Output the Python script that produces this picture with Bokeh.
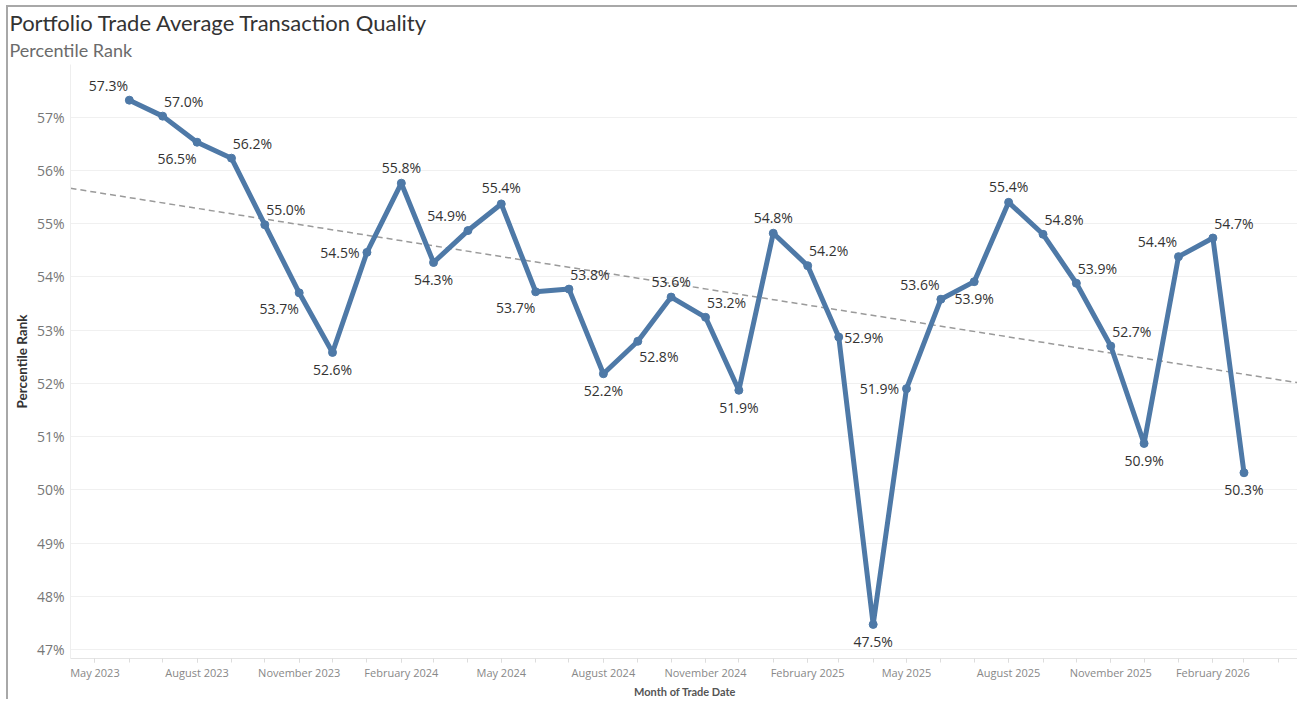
import numpy as np
import pandas as pd
from bokeh.plotting import figure
from bokeh.models import (ColumnDataSource, Range1d, FixedTicker, PrintfTickFormatter,
                          DatetimeTickFormatter, Title)
from bokeh.embed import file_html
from bokeh.resources import INLINE
from bokeh.core.properties import value

# ---- data ----
months = ["2023-06", "2023-07", "2023-08", "2023-09", "2023-10", "2023-11", "2023-12",
          "2024-01", "2024-02", "2024-03", "2024-04", "2024-05", "2024-06", "2024-07",
          "2024-08", "2024-09", "2024-10", "2024-11", "2024-12", "2025-01", "2025-02",
          "2025-03", "2025-04", "2025-05", "2025-06", "2025-07", "2025-08", "2025-09",
          "2025-10", "2025-11", "2025-12", "2026-01", "2026-02", "2026-03"]
pct_rank = [57.32, 57.02, 56.53, 56.23, 54.98, 53.70, 52.58,
            54.46, 55.76, 54.27, 54.87, 55.37, 53.72, 53.77,
            52.18, 52.79, 53.62, 53.24, 51.87, 54.82, 54.21,
            52.87, 47.47, 51.90, 53.58, 53.91, 55.40, 54.80,
            53.88, 52.70, 50.87, 54.38, 54.73, 50.32]
tick_months = ["2023-05", "2023-08", "2023-11", "2024-02", "2024-05", "2024-08",
               "2024-11", "2025-02", "2025-05", "2025-08", "2025-11", "2026-02"]
minor_months = ["2023-05", "2023-06", "2023-07", "2023-08", "2023-09", "2023-10", "2023-11",
                "2023-12", "2024-01", "2024-02", "2024-03", "2024-04", "2024-05", "2024-06",
                "2024-07", "2024-08", "2024-09", "2024-10", "2024-11", "2024-12", "2025-01",
                "2025-02", "2025-03", "2025-04", "2025-05", "2025-06", "2025-07", "2025-08",
                "2025-09", "2025-10", "2025-11", "2025-12", "2026-01", "2026-02", "2026-03",
                "2026-04"]
y_ticks = [47, 48, 49, 50, 51, 52, 53, 54, 55, 56, 57]

# label placement (layout only)
label_pos = ['ul', 'ur', 'dl', 'ur', 'ur', 'dl', 'd', 'l', 'u', 'd', 'ul', 'u', 'dl', 'ur',
             'd', 'dr', 'u', 'ur', 'd', 'u', 'ur', 'r', 'd', 'l', 'ul', 'd', 'u', 'ur',
             'ur', 'ur', 'd', 'ul', 'ur', 'd']
offsets = {'u': (0, -16), 'd': (0, 17), 'ul': (-21, -15), 'ur': (21, -15),
           'dl': (-20, 16), 'dr': (21, 15), 'l': (-27, 0), 'r': (25, 0)}

def to_ms(s):
    return pd.Timestamp(s + "-01").value // 10**6

xs = [to_ms(m) for m in months]
src = ColumnDataSource(dict(
    x=xs, y=pct_rank,
    label=["%.1f%%" % v for v in pct_rank],
    dx=[offsets[p_][0] for p_ in label_pos],
    dy=[offsets[p_][1] for p_ in label_pos],
))

x_start = pd.Timestamp("2023-04-09").value // 10**6
x_end = pd.Timestamp("2026-04-20").value // 10**6

p = figure(width=1291, height=694, title=None,
           x_range=Range1d(x_start, x_end), y_range=Range1d(46.83, 57.99),
           x_axis_type="datetime",
           output_backend="svg", toolbar_location=None,
           min_border_left=62, min_border_right=0, min_border_top=57, min_border_bottom=43)
p.outline_line_color = None
p.background_fill_color = "white"
p.border_fill_color = "white"
p.styles = {"margin-left": "6px", "margin-top": "5px",
            "border-left": "2px solid #a8a8a8", "border-top": "2px solid #a8a8a8"}

LABEL_FONT = "Open Sans"

# titles
sub = Title(text="Percentile Rank", align="left", offset=-61, text_font_size="18px",
            text_color="#6b6b6b", text_font_style="normal", text_font="Lato", standoff=8)
main = Title(text="Portfolio Trade Average Transaction Quality", align="left", offset=-61,
             text_font_size="22px", text_color="#333333", text_font_style="normal",
             text_font="Lato", standoff=-7)
p.add_layout(sub, "above")
p.add_layout(main, "above")

# grids
p.xgrid.visible = False
p.ygrid.grid_line_color = "#f0f0f0"
p.ygrid.ticker = FixedTicker(ticks=y_ticks)

# y axis
p.yaxis.ticker = FixedTicker(ticks=y_ticks)
p.yaxis.formatter = PrintfTickFormatter(format="%d%%")
p.yaxis.axis_line_color = "#eeeeee"
p.yaxis.major_tick_line_color = None
p.yaxis.minor_tick_line_color = None
p.yaxis.major_tick_out = 0
p.yaxis.major_tick_in = 0
p.yaxis.minor_tick_out = 0
p.yaxis.minor_tick_in = 0
p.yaxis.major_label_text_font = LABEL_FONT
p.yaxis.major_label_text_font_size = "14px"
p.yaxis.major_label_text_color = "#777777"
p.yaxis.major_label_standoff = 6
p.yaxis.axis_label = "Percentile Rank"
p.yaxis.axis_label_text_font = "Lato"
p.yaxis.axis_label_text_font_style = "bold"
p.yaxis.axis_label_text_font_size = "13.5px"
p.yaxis.axis_label_text_color = "#333333"
p.yaxis.axis_label_standoff = 4

# x axis
p.xaxis.ticker = FixedTicker(ticks=[to_ms(m) for m in tick_months],
                             minor_ticks=[to_ms(m) for m in minor_months])
p.xaxis.formatter = DatetimeTickFormatter(months="%B %Y", days="%B %Y")
p.xaxis.axis_line_color = "#e4e4e4"
p.xaxis.major_tick_line_color = "#dddddd"
p.xaxis.minor_tick_line_color = "#dddddd"
p.xaxis.major_tick_in = 0
p.xaxis.major_tick_out = 4
p.xaxis.minor_tick_in = 0
p.xaxis.minor_tick_out = 4
p.xaxis.major_label_text_font = LABEL_FONT
p.xaxis.major_label_text_font_size = "11px"
p.xaxis.major_label_text_color = "#888888"
p.xaxis.major_label_standoff = 2
p.xaxis.axis_label = "Month of Trade Date"
p.xaxis.axis_label_text_font = "Lato"
p.xaxis.axis_label_text_font_style = "bold"
p.xaxis.axis_label_text_font_size = "11px"
p.xaxis.axis_label_text_color = "#555555"
p.xaxis.axis_label_standoff = 2

# trend line (least squares on the data)
days = np.array(xs, dtype=float)
coef = np.polyfit(days, np.array(pct_rank), 1)
tx = [x_start, x_end]
ty = [coef[0] * t + coef[1] for t in tx]
p.line(tx, ty, line_color="#9a9a9a", line_width=1.5, line_dash="6 4")

# main series
p.line('x', 'y', source=src, line_color="#4e79a7", line_width=5, line_join="round")
p.scatter('x', 'y', source=src, size=8, color="#4e79a7")
p.text('x', 'y', text='label', source=src, x_offset='dx', y_offset='dy',
       text_align="center", text_baseline="middle", text_font=value(LABEL_FONT),
       text_font_size="14px", text_color="#333333")

open("out.html", "w").write(file_html(p, INLINE))
